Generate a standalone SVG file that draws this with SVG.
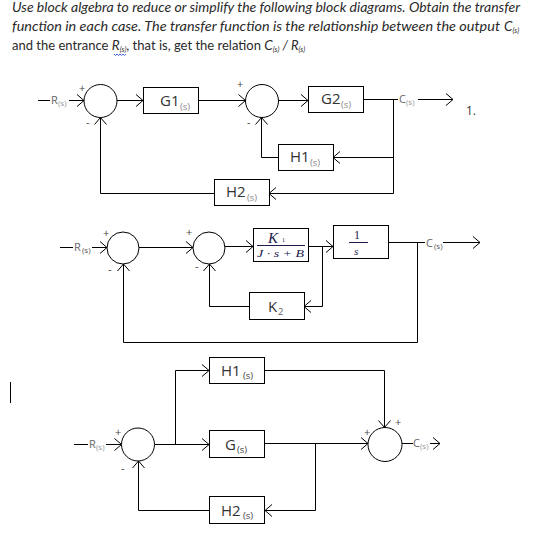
<svg xmlns="http://www.w3.org/2000/svg" width="536" height="533" viewBox="0 0 536 533">
<style>
.t{font-family:Lato,"Open Sans","Liberation Sans",sans-serif;font-size:13.5px;fill:#2a2a2a}
.i{font-style:italic}
.sub{font-size:7.5px}
.blk{fill:#fff;stroke:#000;stroke-width:1}
.sum{fill:#fff;stroke:#000;stroke-width:1}
.lab{font-family:"Open Sans","DejaVu Sans",sans-serif;font-size:15px;fill:#333}
.ls{font-family:"Open Sans","DejaVu Sans",sans-serif;font-size:9.5px;fill:#888}
.sig{font-family:"Open Sans","DejaVu Sans",sans-serif;font-size:11px;fill:#444}
.rl{font-family:"Open Sans","DejaVu Sans",sans-serif;font-size:11px;fill:#666}
.rs{font-family:"Open Sans","DejaVu Sans",sans-serif;font-size:8px;fill:#999}
.math{font-family:"Liberation Serif","DejaVu Serif",serif;fill:#1c1c4c}
.c{fill:none;stroke:#000;stroke-width:1}
.ca{fill:none;stroke:#000;stroke-width:1;marker-end:url(#a)}
</style>
<defs>
<marker id="a" markerWidth="9" markerHeight="13" refX="7.5" refY="6.5" orient="auto" markerUnits="userSpaceOnUse">
<path d="M0.5,0.5 L7.5,6.5 L0.5,12.5" fill="none" stroke="#000" stroke-width="1"/>
</marker>
</defs>

<g id="title">
<text class="t i" x="12" y="12" textLength="508" lengthAdjust="spacingAndGlyphs">Use block algebra to reduce or simplify the following block diagrams. Obtain the transfer</text>
<text class="t i" x="12" y="31" textLength="488" lengthAdjust="spacingAndGlyphs">function in each case. The transfer function is the relationship between the output</text>
<text class="t i" x="504" y="31">C<tspan class="sub" dy="2">(s)</tspan></text>
<text class="t" x="12" y="50" style="font-size:13px">and the entrance <tspan class="i" style="font-size:13.5px">R</tspan><tspan class="i sub" dy="2">(s)</tspan><tspan dy="-2">, that is, get the relation </tspan><tspan class="i" style="font-size:13.5px">C</tspan><tspan class="i sub" dy="2">(s)</tspan><tspan class="i" dy="-2"> / R</tspan><tspan class="i sub" dy="2">(s)</tspan></text>
<path d="M114,54 l1.5,1.5 l1.5,-1.5 l1.5,1.5 l1.5,-1.5 l1.5,1.5 l1.5,-1.5 l1.5,1.5 l1.5,-1.5" fill="none" stroke="#2b55d0" stroke-width="0.9"/>
</g>

<g id="connectors">
<!-- diagram 1 -->
<path class="c" d="M38,100.5 H50"/>
<path class="ca" d="M69,100.5 H84"/>
<path class="ca" d="M117,100.5 H143"/>
<path class="ca" d="M199,100.5 H245.5"/>
<path class="ca" d="M278.5,100.5 H308"/>
<path class="c" d="M363,99.5 H398"/>
<path class="ca" d="M418,99.5 H453"/>
<path class="c" d="M393.5,99.5 V193.5"/>
<path class="ca" d="M393.5,157.5 H333"/>
<path class="ca" d="M278,157.5 H261.5 V117.5"/>
<path class="ca" d="M393.5,193.5 H269"/>
<path class="ca" d="M214,193.5 H100.5 V117.5"/>
<!-- diagram 2 -->
<path class="c" d="M60,247.5 H73"/>
<path class="ca" d="M92,247.5 H107"/>
<path class="ca" d="M139,247.5 H193"/>
<path class="ca" d="M225,246.5 H253"/>
<path class="ca" d="M309,246.5 H333"/>
<path class="ca" d="M322.5,246.5 V306.5 H304"/>
<path class="ca" d="M249,306.5 H209.5 V264"/>
<path class="c" d="M389,242.5 H425"/>
<path class="ca" d="M443,242.5 H480"/>
<path class="ca" d="M417.5,242.5 V342.5 H123.5 V264"/>
<!-- diagram 3 -->
<path class="c" d="M74,444.5 H88"/>
<path class="ca" d="M106,444.5 H121.5"/>
<path class="ca" d="M154.5,444.5 H209"/>
<path class="ca" d="M175.5,444.5 V370.5 H209"/>
<path class="ca" d="M265,370.5 H384.5 V427.5"/>
<path class="ca" d="M265,443.5 H368"/>
<path class="ca" d="M315.5,443.5 V510.5 H265"/>
<path class="ca" d="M209,510.5 H138.5 V461"/>
<path class="c" d="M402,443.5 H413"/>
<path class="ca" d="M430,443.5 H440"/>
</g>

<!-- Diagram 1 -->
<g id="R1"><text class="rl" x="51" y="104">R</text><text class="rs" x="58" y="106">(s)</text></g>
<g id="S1"><circle class="sum" cx="100.5" cy="101" r="16.5"/><text class="sig" x="79" y="92">+</text><text class="sig" x="86" y="126">-</text></g>
<g id="G1"><rect class="blk" x="143.5" y="87.5" width="55" height="26"/><text class="lab" x="160" y="106">G1</text><text class="ls" x="180" y="110">(s)</text></g>
<g id="S2"><circle class="sum" cx="262" cy="101" r="16.5"/><text class="sig" x="237" y="88">+</text><text class="sig" x="247" y="126">-</text></g>
<g id="G2"><rect class="blk" x="308.5" y="86.5" width="55" height="26"/><text class="lab" x="321" y="104">G2</text><text class="ls" x="341" y="108">(s)</text></g>
<g id="C1"><text class="rl" x="399" y="103">C</text><text class="rs" x="406" y="105">(s)</text></g>
<g id="num1"><text class="lab" x="466" y="115" style="font-size:12px">1.</text></g>
<g id="H1a"><rect class="blk" x="278.5" y="144.5" width="55" height="26"/><text class="lab" x="290" y="162">H1</text><text class="ls" x="310" y="166">(s)</text></g>
<g id="H2a"><rect class="blk" x="214.5" y="179.5" width="55" height="26"/><text class="lab" x="226" y="197">H2</text><text class="ls" x="247" y="201">(s)</text></g>

<!-- Diagram 2 -->
<g id="R2"><text class="rl" x="74" y="251">R</text><text class="rs" x="82" y="253" style="fill:#555">(s)</text></g>
<g id="S3"><circle class="sum" cx="123" cy="248" r="16"/><text class="sig" x="103" y="237">+</text><text class="sig" x="108" y="273">-</text></g>
<g id="S4"><circle class="sum" cx="209" cy="248" r="16"/><text class="sig" x="186" y="236">+</text><text class="sig" x="195" y="270">-</text></g>
<g id="K1"><rect class="blk" x="253.5" y="228.5" width="55" height="33"/>
<text class="math i" x="268" y="243" style="font-size:15px">K</text><text class="math" x="282" y="242" style="font-size:6px">1</text>
<line x1="257" y1="245.5" x2="305" y2="245.5" stroke="#1c1c4c" stroke-width="1"/>
<text class="math i" x="257" y="257" style="font-size:10.5px" textLength="47" lengthAdjust="spacingAndGlyphs">J · s + B</text></g>
<g id="INT"><rect class="blk" x="333.5" y="225.5" width="55" height="33"/>
<text class="math" x="354" y="239" style="font-size:12px">1</text>
<line x1="349" y1="242.5" x2="368" y2="242.5" stroke="#1c1c4c" stroke-width="1"/>
<text class="math i" x="354" y="255" style="font-size:11px">s</text></g>
<g id="K2"><rect class="blk" x="249.5" y="292.5" width="55" height="27"/><text class="lab" x="268" y="312">K</text><text class="ls" x="278" y="315" style="fill:#666">2</text></g>
<g id="C2"><text class="rl" x="426" y="247">C</text><text class="rs" x="434" y="249" style="fill:#555">(s)</text></g>

<!-- Diagram 3 -->
<g id="cursor"><line x1="10.5" y1="382" x2="10.5" y2="403" stroke="#000" stroke-width="1"/></g>
<g id="R3"><text class="rl" x="89" y="448">R</text><text class="rs" x="96" y="450">(s)</text></g>
<g id="S5"><circle class="sum" cx="138" cy="444.5" r="16.5"/><text class="sig" x="115" y="436">+</text><text class="sig" x="121" y="472">-</text></g>
<g id="H1b"><rect class="blk" x="209.5" y="357.5" width="55" height="26"/><text class="lab" x="221" y="376">H1</text><text class="ls" x="243" y="379" style="fill:#444">(s)</text></g>
<g id="G"><rect class="blk" x="209.5" y="430.5" width="55" height="27"/><text class="lab" x="225" y="450">G</text><text class="ls" x="237" y="453" style="fill:#444">(s)</text></g>
<g id="H2b"><rect class="blk" x="209.5" y="496.5" width="55" height="27"/><text class="lab" x="221" y="516">H2</text><text class="ls" x="243" y="519" style="fill:#444">(s)</text></g>
<g id="S6"><circle class="sum" cx="385" cy="444.5" r="17"/><text class="sig" x="364" y="436">+</text><text class="sig" x="395" y="426">+</text></g>
<g id="C3"><text class="rl" x="413" y="447">C</text><text class="rs" x="420" y="449">(s)</text></g>
</svg>
